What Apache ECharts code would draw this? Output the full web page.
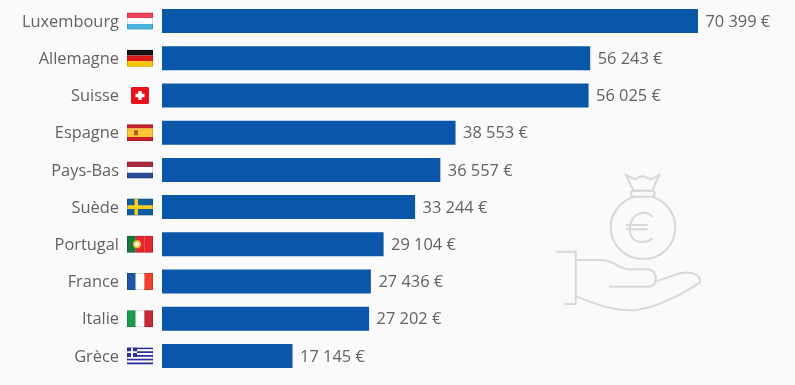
<!DOCTYPE html>
<html>
<head>
<meta charset="utf-8">
<style>html,body{margin:0;padding:0;background:#fafafa}#c{width:795px;height:385px}</style>
<script src="https://cdn.jsdelivr.net/npm/echarts@6/dist/echarts.min.js"></script>
</head>
<body>
<div id="c"></div>
<script>
const categories = ['Luxembourg','Allemagne','Suisse','Espagne','Pays-Bas','Suède','Portugal','France','Italie','Grèce'];
const values = [70399,56243,56025,38553,36557,33244,29104,27436,27202,17145];
const stripesH = (a) => a.map((c,i)=>`<rect x="0" y="${i*17/a.length}" width="26" height="${17/a.length+0.1}" fill="${c}"/>`).join('');
const stripesV = (a) => a.map((c,i)=>`<rect x="${i*26/a.length}" y="0" width="${26/a.length+0.1}" height="17" fill="${c}"/>`).join('');
const frame = '<rect x="0.4" y="0.4" width="25.2" height="16.2" fill="none" stroke="#000" stroke-opacity="0.2" stroke-width="0.8"/>';
const greece = () => {
  let s = stripesH(['#2b2f9e','#fff','#2b2f9e','#fff','#2b2f9e','#fff','#2b2f9e','#fff','#2b2f9e']);
  s += '<rect width="10" height="9.5" fill="#2b2f9e"/><rect x="4" width="2" height="9.5" fill="#fff"/><rect y="3.8" width="10" height="1.9" fill="#fff"/>';
  return s;
};
const flagBodies = [
  stripesH(['#ef4155','#fff','#4cb4e0']),
  stripesH(['#111','#dd1c1c','#fbc800']),
  '<rect x="4" width="18" height="17" rx="1.5" fill="#e8111c"/><rect x="11.3" y="4" width="3.4" height="9" fill="#fff"/><rect x="8.5" y="6.8" width="9" height="3.4" fill="#fff"/>',
  stripesH(['#c8202c','#fbc32e','#fbc32e','#c8202c'])+'<rect x="7" y="6" width="4" height="5" rx="1" fill="#b5561c"/>',
  stripesH(['#a92a3c','#fff','#2a4b96']),
  '<rect width="26" height="17" fill="#0f5c9e"/><rect x="7.5" width="3.5" height="17" fill="#fbcd1f"/><rect y="6.7" width="26" height="3.6" fill="#fbcd1f"/>',
  stripesV(['#17793f','#e8252e','#e8252e'])+'<circle cx="10" cy="8.5" r="4" fill="#e9c23a"/><circle cx="10" cy="8.5" r="2.2" fill="#f4f4f4"/>',
  stripesV(['#1f55a5','#fff','#f0412f']),
  stripesV(['#1f9a4b','#fff','#c22a35']),
  greece()
];
const flagUrl = (b, i) => 'data:image/svg+xml;charset=utf-8,' + encodeURIComponent(
  `<svg xmlns="http://www.w3.org/2000/svg" width="26" height="17" viewBox="0 0 26 17">${b}${i===2?'':frame}</svg>`);
const rich = {
  name: { fontFamily:'Open Sans', fontSize:16.4, color:'#626262', align:'right', padding:[2,0,0,0] },
  gap: { width:8 }
};
flagBodies.forEach((b,i)=>{ rich['f'+i] = { width:26, height:17, backgroundColor:{ image: flagUrl(b,i) } }; });

const iconPaths = [
  'M258 45 L285 58 Q297 52 308 48 Q320 52 332 58 L358 45 L337 92 L280 92 Z',
  'M280 92 L337 92 Q344 92 344 100 Q344 110 337 110 L280 110 Q273 110 273 100 Q273 92 280 92 Z',
  'M282 110 C240 125 212 160 212 200 C212 255 255 297 310 297 C365 297 406 255 406 200 C406 160 378 125 337 110',
  'M337 170 C325 157 308 155 295 162 C270 172 262 215 278 235 C292 250 320 250 337 235',
  'M258 195 L323 195 M258 208 L323 208',
  'M47 275 L107 275 L107 432 L72 432',
  'M107 300 L190 300 C225 305 240 328 270 328 L325 328 C355 330 355 380 325 380 L208 380',
  'M345 365 L420 340 C460 330 490 352 478 368 C440 395 360 440 290 450 C220 455 160 430 107 408'
];
const iconUrl = 'data:image/svg+xml;charset=utf-8,' + encodeURIComponent(
  `<svg xmlns="http://www.w3.org/2000/svg" width="180" height="160" viewBox="0 0 540 480"><g fill="none" stroke="#d8d8d8" stroke-width="6">${iconPaths.map(d=>`<path d="${d}"/>`).join('')}</g></svg>`);

const chart = echarts.init(document.getElementById('c'), null, {renderer:'canvas'});
chart.setOption({
  animation:false,
  backgroundColor:'#fafafa',
  grid:{ left:162, top:2.5, width:536, height:372 },
  xAxis:{ type:'value', min:0, max:70399, show:false },
  yAxis:{
    type:'category', inverse:true, data:categories,
    axisLine:{show:false}, axisTick:{show:false},
    axisLabel:{
      margin:9,
      formatter:(v,i)=>`{name|${v}}{gap|}{f${i}|}`,
      rich
    }
  },
  series:[{
    type:'bar', data:values, barWidth:24,
    itemStyle:{ color:'#0A56A8' },
    label:{
      show:true, position:'right', distance:7.5, offset:[0,1],
      fontFamily:'Open Sans', fontSize:16.4, color:'#626262',
      formatter:p=>String(p.value).replace(/\B(?=(\d{3})+$)/g,' ')+' €'
    }
  }],
  graphic:[{
    type:'image', x:540, y:160, silent:true,
    style:{ image:iconUrl, x:0, y:0, width:180, height:160 }
  }]
});
</script>
</body>
</html>
